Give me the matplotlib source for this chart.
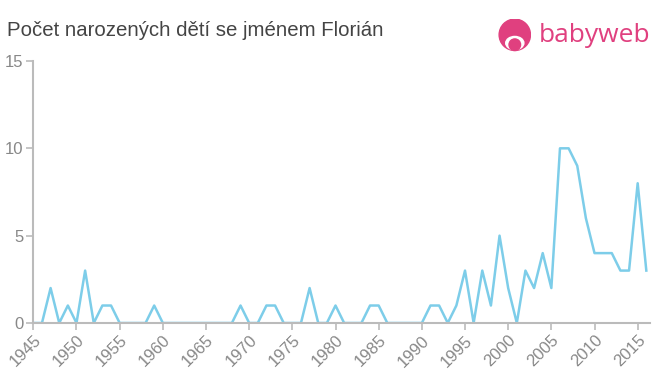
import matplotlib
matplotlib.use("Agg")
import matplotlib.pyplot as plt
from matplotlib.patches import Circle, Ellipse

years = list(range(1945, 2017))
counts = [0, 0, 2, 0, 1, 0, 3, 0, 1, 1,   # 1945-1954
          0, 0, 0, 0, 1, 0, 0, 0, 0, 0,   # 1955-1964
          0, 0, 0, 0, 1, 0, 0, 1, 1, 0,   # 1965-1974
          0, 0, 2, 0, 0, 1, 0, 0, 0, 1,   # 1975-1984
          1, 0, 0, 0, 0, 0, 1, 1, 0, 1,   # 1985-1994
          3, 0, 3, 1, 5, 2, 0, 3, 2, 4,   # 1995-2004
          2, 10, 10, 9, 6, 4, 4, 4, 3, 3, # 2005-2014
          8, 3]                           # 2015-2016
xticks = list(range(1945, 2016, 5))
yticks = [0, 5, 10, 15]
title = "Počet narozených dětí se jménem Florián"

plt.rcParams['font.family'] = ['Liberation Sans', 'DejaVu Sans']

fig = plt.figure(figsize=(6.6, 3.75), dpi=100)
ax = fig.add_axes([0.0505, 0.1387, 0.934, 0.6987])

ax.plot(years, counts, color="#7dcde9", linewidth=1.8)

ax.set_xlim(1945, 2016.4)
ax.set_ylim(0, 15)
ax.set_xticks(xticks)
ax.set_xticklabels([str(y) for y in xticks], rotation=45, ha="right",
                   rotation_mode="anchor")
ax.set_yticks(yticks)

for s in ["top", "right"]:
    ax.spines[s].set_visible(False)
for s in ["left", "bottom"]:
    ax.spines[s].set_color("#bbbbbb")
    ax.spines[s].set_linewidth(1.5)
ax.tick_params(axis="both", colors="#bbbbbb", length=5, width=1.2,
               labelcolor="#888888", labelsize=12)
ax.tick_params(axis="x", pad=2)
ax.tick_params(axis="y", pad=2)

fig.text(0.011, 0.918, title, fontsize=14.7, color="#444444", va="center")

# babyweb logo
pink = "#e0407f"
fig.text(0.817, 0.905, "babyweb", fontsize=19, color=pink, va="center",
         fontfamily=["Open Sans", "DejaVu Sans"])
logo = fig.add_axes([0.755, 0.86, 0.05, 0.09])
logo.set_xlim(-1, 1)
logo.set_ylim(-1, 1)
logo.set_aspect("equal")
logo.axis("off")
logo.add_patch(Circle((0, 0.05), 0.95, color=pink))
logo.add_patch(Ellipse((0, -0.45), 1.1, 0.8, color="white"))
logo.add_patch(Circle((0, -0.55), 0.35, color=pink))

fig.savefig("out.png", dpi=100)
